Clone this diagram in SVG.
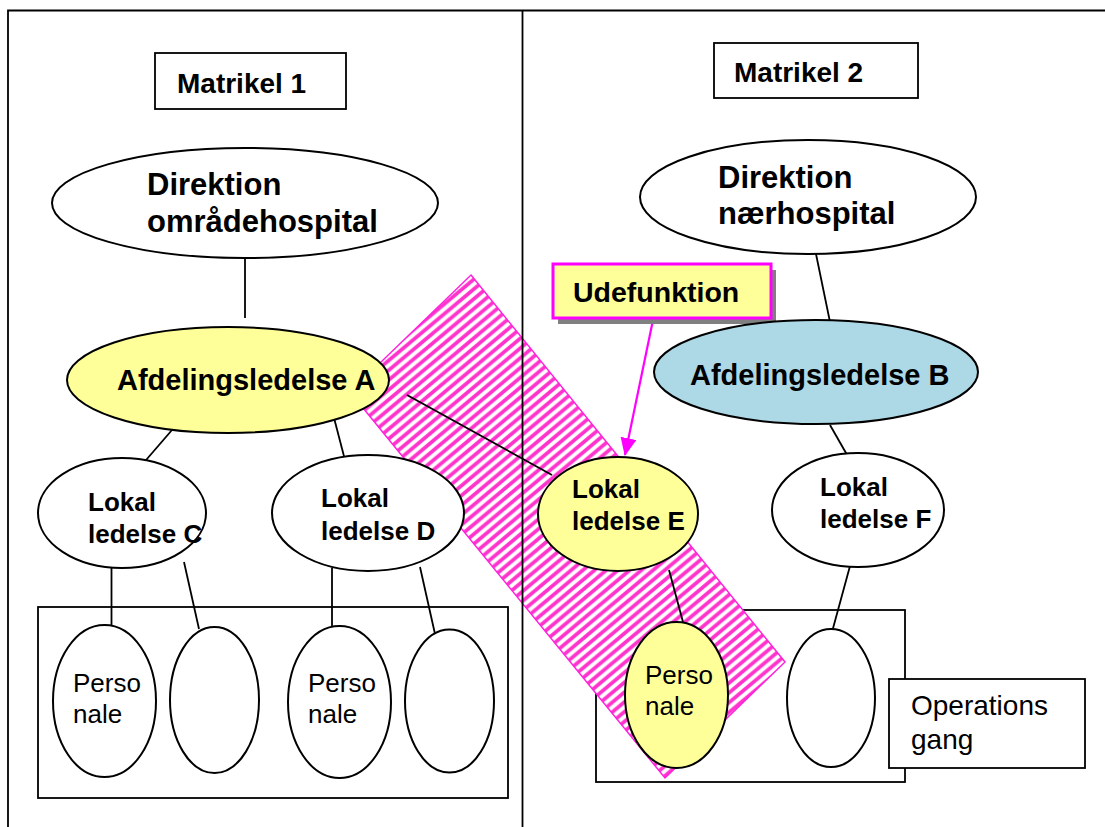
<svg xmlns="http://www.w3.org/2000/svg" width="1105" height="827" viewBox="0 0 1105 827">
<style>
.ln{stroke:#000;stroke-width:1.8;fill:none}
.el{stroke:#000;stroke-width:2;fill:#fff}
.yl{fill:#FFFF99}
.bl{fill:#ADD8E6}
.bx{stroke:#000;stroke-width:1.8;fill:#fff}
.tb{font-family:"Liberation Sans",Arial,sans-serif;font-weight:bold;fill:#000}
.tn{font-family:"Liberation Sans",Arial,sans-serif;fill:#000}
</style>
<defs>
<pattern id="stripes" patternUnits="userSpaceOnUse" x="0" y="0" width="11.7" height="9.8">
<rect width="11.7" height="9.8" fill="#fff"/>
<path d="M-2.34,1.96 L2.34,-1.96 M-2.34,11.76 L14.04,-1.96 M9.36,11.76 L14.04,7.84" stroke="#FF33CC" stroke-width="3.7"/>
</pattern>
<marker id="ahb" markerWidth="18" markerHeight="16" refX="17" refY="8" orient="auto" markerUnits="userSpaceOnUse" viewBox="0 0 18 16">
<path d="M0,0 L18,8 L0,16 z" fill="#FF00FF"/>
</marker>
</defs>
<rect width="1105" height="827" fill="#fff"/>

<g id="frame">
<path class="ln" d="M8,827 V10.5 H1110"/>
</g>

<g id="inner-boxes">
<rect class="bx" x="38" y="607" width="470" height="191"/>
<rect class="bx" x="596" y="610" width="309" height="172"/>
</g>

<g id="band">
<polygon points="471,275 785,662 665,778 350,392" fill="url(#stripes)" stroke="#FF22DD" stroke-width="1.5"/>
</g>

<g id="divider">
<line class="ln" x1="522.5" y1="10" x2="522.5" y2="827"/>
</g>

<g id="connectors">
<line class="ln" x1="245" y1="258" x2="245" y2="318"/>
<line class="ln" x1="816" y1="254" x2="830" y2="322"/>
<line class="ln" x1="172" y1="430" x2="140" y2="467"/>
<line class="ln" x1="333" y1="414" x2="346" y2="464"/>
<line class="ln" x1="407" y1="395" x2="552" y2="475"/>
<line class="ln" x1="830" y1="425" x2="850" y2="460"/>
<line class="ln" x1="111.5" y1="567" x2="111.5" y2="625"/>
<line class="ln" x1="184" y1="562" x2="199" y2="629"/>
<line class="ln" x1="332" y1="568" x2="332" y2="626"/>
<line class="ln" x1="420" y1="567" x2="435" y2="634"/>
<line class="ln" x1="669" y1="570" x2="683" y2="622"/>
<line class="ln" x1="850" y1="566" x2="832" y2="632"/>
<line x1="653" y1="320" x2="625" y2="455" stroke="#FF00FF" stroke-width="2.2" marker-end="url(#ahb)"/>
</g>

<g id="matrikel1">
<rect class="bx" x="155" y="53" width="191" height="56"/>
<text class="tb" x="177" y="93" font-size="28">Matrikel 1</text>
</g>
<g id="matrikel2">
<rect class="bx" x="714" y="43" width="204" height="55"/>
<text class="tb" x="734" y="82" font-size="28">Matrikel 2</text>
</g>

<g id="direktion-omraade">
<ellipse class="el" cx="245" cy="203" rx="193" ry="55"/>
<text class="tb" x="147" y="195" font-size="31">Direktion</text>
<text class="tb" x="147" y="232" font-size="31">områdehospital</text>
</g>
<g id="direktion-naer">
<ellipse class="el" cx="808" cy="197" rx="168" ry="57"/>
<text class="tb" x="718" y="188" font-size="31">Direktion</text>
<text class="tb" x="718" y="224" font-size="31">nærhospital</text>
</g>

<g id="udefunktion">
<rect x="558" y="270" width="218" height="54" fill="#808080"/>
<rect x="553" y="264" width="218" height="54" fill="#FFFF99" stroke="#FF00FF" stroke-width="3"/>
<text class="tb" x="573" y="302" font-size="28.5">Udefunktion</text>
</g>

<g id="afdeling-a">
<ellipse class="el yl" cx="228" cy="380" rx="161" ry="53"/>
<text class="tb" x="117" y="390" font-size="29">Afdelingsledelse A</text>
</g>
<g id="afdeling-b">
<ellipse class="el bl" cx="816" cy="372" rx="162" ry="52"/>
<text class="tb" x="690" y="385" font-size="29">Afdelingsledelse B</text>
</g>

<g id="lokal-c">
<ellipse class="el" cx="122" cy="513" rx="84" ry="55"/>
<text class="tb" x="88" y="511" font-size="26">Lokal</text>
<text class="tb" x="88" y="543" font-size="26">ledelse C</text>
</g>
<g id="lokal-d">
<ellipse class="el" cx="368" cy="513" rx="96" ry="58"/>
<text class="tb" x="321" y="507" font-size="26">Lokal</text>
<text class="tb" x="321" y="540" font-size="26">ledelse D</text>
</g>
<g id="lokal-e">
<ellipse class="el yl" cx="618" cy="514" rx="80" ry="57"/>
<text class="tb" x="572" y="498" font-size="26">Lokal</text>
<text class="tb" x="572" y="530" font-size="26">ledelse E</text>
</g>
<g id="lokal-f">
<ellipse class="el" cx="858" cy="510" rx="86" ry="57"/>
<text class="tb" x="820" y="496" font-size="26">Lokal</text>
<text class="tb" x="820" y="528" font-size="26">ledelse F</text>
</g>

<g id="personale-1">
<ellipse class="el" cx="104.5" cy="701" rx="51.5" ry="76"/>
<text class="tn" x="73" y="692" font-size="26">Perso</text>
<text class="tn" x="73" y="723" font-size="26">nale</text>
</g>
<g id="personale-2">
<ellipse class="el" cx="214.5" cy="700" rx="44.5" ry="73"/>
</g>
<g id="personale-3">
<ellipse class="el" cx="339.5" cy="702" rx="51.5" ry="76"/>
<text class="tn" x="308" y="692" font-size="26">Perso</text>
<text class="tn" x="308" y="723" font-size="26">nale</text>
</g>
<g id="personale-4">
<ellipse class="el" cx="449.5" cy="701" rx="44.5" ry="71.5"/>
</g>
<g id="personale-e">
<ellipse class="el yl" cx="676.5" cy="695" rx="51.5" ry="73"/>
<text class="tn" x="645" y="684" font-size="26">Perso</text>
<text class="tn" x="645" y="715" font-size="26">nale</text>
</g>
<g id="personale-f">
<ellipse class="el" cx="831" cy="698" rx="44" ry="69"/>
</g>

<g id="operationsgang">
<rect class="bx" x="889" y="679" width="196" height="89"/>
<text class="tn" x="911" y="715" font-size="28">Operations</text>
<text class="tn" x="911" y="749" font-size="28">gang</text>
</g>
</svg>
